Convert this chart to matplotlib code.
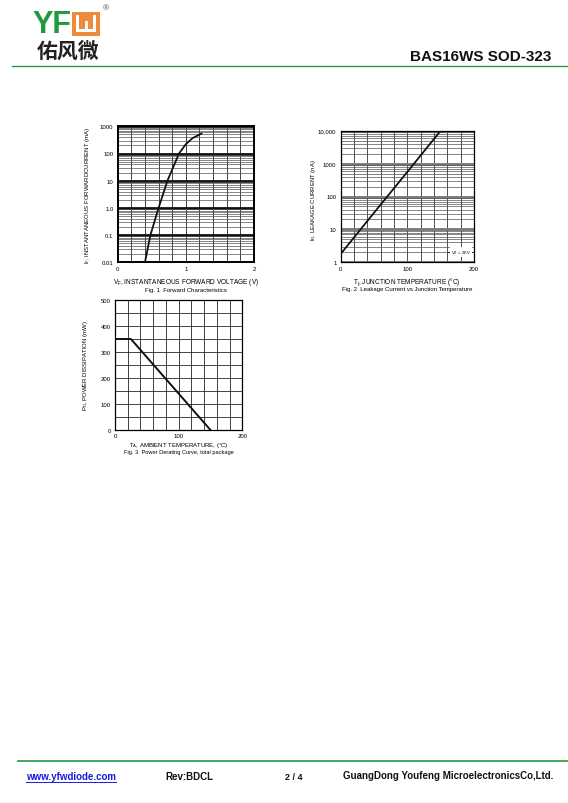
import matplotlib
matplotlib.use("Agg")
import matplotlib.pyplot as plt
import numpy as np
from matplotlib.patches import Rectangle
from matplotlib.lines import Line2D
from matplotlib.ticker import MultipleLocator, FixedLocator, LogLocator, NullFormatter, FixedFormatter

plt.rcParams['font.family'] = ['Liberation Sans', 'DejaVu Sans']
plt.rcParams['mathtext.fontset'] = 'custom'
plt.rcParams['mathtext.rm'] = 'Liberation Sans'
plt.rcParams['mathtext.it'] = 'Liberation Sans'

# ---- data ----
fig1_vf = [0.40, 0.48, 0.60, 0.73, 0.90, 1.00, 1.10, 1.23]
fig1_if = [0.01, 0.1, 1.0, 10.0, 100.0, 220.0, 370.0, 540.0]
fig1_yticks = [0.01, 0.1, 1, 10, 100, 1000]
fig1_ylabels = ["0.01", "0.1", "1.0", "10", "100", "1000"]
fig1_xticks = [0, 1, 2]

fig2_tj = [0, 50, 100, 150]
fig2_ir = [1.8, 32.0, 560.0, 10000.0]
fig2_yticks = [1, 10, 100, 1000, 10000]
fig2_ylabels = ["1", "10", "100", "1000", "10,000"]
fig2_xticks = [0, 100, 200]

fig3_ta = [0, 25, 150]
fig3_pd = [350, 350, 0]
fig3_yticks = [0, 100, 200, 300, 400, 500]
fig3_xticks = [0, 100, 200]

W, H = 568, 804
fig = plt.figure(figsize=(W / 100, H / 100), dpi=100)

def fx(px):
    return px / W

def fy(py):
    return 1 - py / H

def ax_at(l, t, r, b):
    return fig.add_axes([fx(l), fy(b), fx(r) - fx(l), (b - t) / H])

FS = 4.3

# ---------------- Fig 1 ----------------
ax1 = ax_at(117.7, 127.3, 254, 263.3)
ax1.set_yscale('log')
ax1.set_xlim(0, 2)
ax1.set_ylim(0.01, 1000)
ax1.xaxis.set_major_locator(FixedLocator(fig1_xticks))
ax1.xaxis.set_minor_locator(MultipleLocator(0.2))
ax1.yaxis.set_major_locator(FixedLocator(fig1_yticks))
ax1.yaxis.set_major_formatter(FixedFormatter(fig1_ylabels))
ax1.yaxis.set_minor_locator(LogLocator(base=10, subs=np.arange(2, 10), numticks=20))
ax1.yaxis.set_minor_formatter(NullFormatter())
ax1.grid(True, which='minor', axis='x', color='#222222', lw=0.6)
ax1.grid(True, which='major', axis='x', color='#222222', lw=0.6)
ax1.grid(True, which='minor', axis='y', color='#555555', lw=0.5)
ax1.grid(True, which='major', axis='y', color='#111111', lw=2.0)
ax1.tick_params(which='both', length=0, labelsize=FS, pad=3)
for s in ax1.spines.values():
    s.set_linewidth(1.4)
ax1.plot(fig1_vf, fig1_if, color='#111111', lw=1.3, zorder=5)
ax1.set_axisbelow(True)
fig.text(fx(186), fy(282.5), "V$_F$, INSTANTANEOUS FORWARD VOLTAGE (V)", ha='center', va='center', fontsize=FS + 0.4)
fig.text(fx(186), fy(290.5), "Fig. 1  Forward Characteristics", ha='center', va='center', fontsize=FS)
fig.text(fx(88), fy(195), "I$_F$, INSTANTANEOUS FORWARDCURRENT (mA)", ha='center', va='center', rotation=90, fontsize=FS)

# ---------------- Fig 2 ----------------
ax2 = ax_at(340.7, 131.7, 474, 263.3)
ax2.set_yscale('log')
ax2.set_xlim(0, 200)
ax2.set_ylim(1, 10000)
ax2.xaxis.set_major_locator(FixedLocator(fig2_xticks))
ax2.xaxis.set_minor_locator(MultipleLocator(20))
ax2.yaxis.set_major_locator(FixedLocator(fig2_yticks))
ax2.yaxis.set_major_formatter(FixedFormatter(fig2_ylabels))
ax2.yaxis.set_minor_locator(LogLocator(base=10, subs=np.arange(2, 10), numticks=20))
ax2.yaxis.set_minor_formatter(NullFormatter())
ax2.grid(True, which='both', axis='x', color='#333333', lw=0.6)
ax2.grid(True, which='minor', axis='y', color='#555555', lw=0.5)
ax2.grid(True, which='major', axis='y', color='#777777', lw=2.0)
ax2.tick_params(which='both', length=0, labelsize=FS, pad=3)
for s in ax2.spines.values():
    s.set_linewidth(0.9)
ax2.plot(fig2_tj, fig2_ir, color='#111111', lw=1.3, zorder=5)
ax2.set_axisbelow(True)
ax2.text(181, 2.05, "V$_R$ = 20V", ha='center', va='center', fontsize=3.2,
         bbox=dict(facecolor='white', edgecolor='none', pad=0.6), zorder=6)
ax2.plot([161, 199], [2.05, 2.05], color='#111111', lw=0.6, zorder=5.5)
fig.text(fx(407), fy(282.5), "T$_j$, JUNCTION TEMPERATURE (°C)", ha='center', va='center', fontsize=FS + 0.4)
fig.text(fx(407), fy(290), "Fig. 2  Leakage Current vs Junction Temperature", ha='center', va='center', fontsize=FS)
fig.text(fx(314), fy(200), "I$_R$, LEAKAGE CURRENT (nA)", ha='center', va='center', rotation=90, fontsize=FS)

# ---------------- Fig 3 ----------------
ax3 = ax_at(115, 301, 242.3, 431)
ax3.set_xlim(0, 200)
ax3.set_ylim(0, 500)
ax3.xaxis.set_major_locator(FixedLocator(fig3_xticks))
ax3.xaxis.set_minor_locator(MultipleLocator(20))
ax3.yaxis.set_major_locator(FixedLocator(fig3_yticks))
ax3.yaxis.set_minor_locator(MultipleLocator(50))
ax3.grid(True, which='both', color='#222222', lw=0.6)
ax3.tick_params(which='both', length=0, labelsize=FS, pad=3)
ax3.tick_params(axis='x', pad=2)
for s in ax3.spines.values():
    s.set_linewidth(0.9)
ax3.plot(fig3_ta, fig3_pd, color='#111111', lw=1.4, zorder=5)
ax3.set_axisbelow(True)
fig.text(fx(179), fy(446), "T$_A$, AMBIENT TEMPERATURE, (°C)", ha='center', va='center', fontsize=FS)
fig.text(fx(179), fy(453), "Fig. 3  Power Derating Curve, total package", ha='center', va='center', fontsize=FS - 0.2)
fig.text(fx(86), fy(366), "P$_D$, POWER DISSIPATION (mW)", ha='center', va='center', rotation=90, fontsize=FS)

# ---------------- Header ----------------
GREEN = '#1f9a3c'
ORANGE = '#ee8a3a'
fig.text(fx(32), fy(25), "YF", color=GREEN, fontsize=22, fontweight='bold', ha='left', va='center',
         family=['Liberation Sans', 'DejaVu Sans'])
# orange logo box with white glyph
fig.patches.append(Rectangle((fx(72), fy(37)), fx(100) - fx(72), (37 - 13) / H, transform=fig.transFigure,
                             facecolor=ORANGE, edgecolor='none'))
for (x0, y0, x1, y1) in [(76, 16, 79, 33), (93, 16, 96, 33), (84.5, 22, 87.5, 33), (76, 30, 96, 33)]:
    fig.patches.append(Rectangle((fx(x0), fy(y1)), fx(x1) - fx(x0), (y1 - y0) / H, transform=fig.transFigure,
                                 facecolor='white', edgecolor='none'))
fig.text(fx(106), fy(9), "®", fontsize=6, color='#444444', ha='center', va='center')
fig.text(fx(68), fy(51), "佑风微", fontsize=15, fontweight='bold', ha='center', va='center', color='#222222',
         family=['Noto Sans CJK SC', 'DejaVu Sans'])
fig.text(fx(551), fy(57), "BAS16WS SOD-323", fontsize=11, fontweight='bold', ha='right', va='center', color='#111111')
fig.lines.append(Line2D([fx(12), fx(568)], [fy(67), fy(67)], transform=fig.transFigure, color=GREEN, lw=1.0))

# ---------------- Footer ----------------
fig.lines.append(Line2D([fx(18), fx(568)], [fy(762), fy(762)], transform=fig.transFigure, color=GREEN, lw=1.2))
fig.text(fx(26), fy(777), "www.yfwdiode.com", fontsize=7, fontweight='bold', color='#1a1adf', ha='left', va='center')
fig.lines.append(Line2D([fx(26), fx(116)], [fy(782.5), fy(782.5)], transform=fig.transFigure, color='#1a1adf', lw=0.7))
fig.text(fx(165), fy(777), "Rev:BDCL", fontsize=7, fontweight='bold', color='#111111', ha='left', va='center')
fig.text(fx(285), fy(778), "2 / 4", fontsize=6.5, fontweight='bold', color='#111111', ha='left', va='center')
fig.text(fx(343), fy(776), "GuangDong Youfeng MicroelectronicsCo,Ltd.", fontsize=7, fontweight='bold', color='#111111',
         ha='left', va='center')

fig.savefig("out.png", dpi=100)
